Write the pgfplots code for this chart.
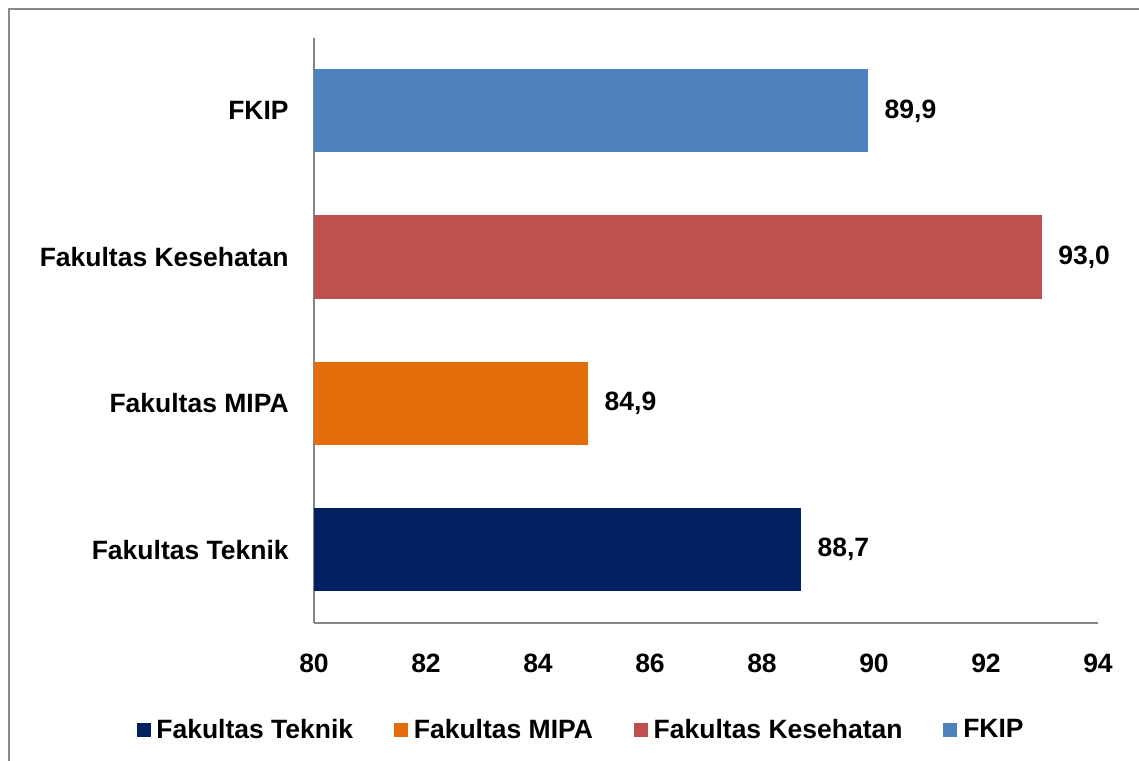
\documentclass[border=0pt]{standalone}
\usepackage{fontspec}
\setmainfont{Liberation Sans}
\usepackage{pgfplots}
\pgfplotsset{compat=1.18}
\definecolor{cT}{HTML}{002060}
\definecolor{cM}{HTML}{E46C0A}
\definecolor{cK}{HTML}{C0504D}
\definecolor{cF}{HTML}{4F81BD}
\definecolor{frame}{HTML}{898989}
\definecolor{axisgray}{HTML}{868686}
\newcommand{\lf}{\bfseries\fontsize{15.9}{18}\selectfont}
\begin{document}
\begin{tikzpicture}
\useasboundingbox (0,0) rectangle (683.4pt,456.6pt);
\draw[line width=1.6pt, color=frame] (5.4pt,0pt) -- (5.4pt,451.2pt) -- (683.4pt,451.2pt);
\begin{axis}[
  at={(188.4pt,82.98pt)}, anchor=south west,
  scale only axis, width=470.4pt, height=351pt,
  xbar, bar width=0.57,
  xmin=80, xmax=94, ymin=-0.5, ymax=3.5,
  xtick={80,82,...,94}, ytick={0,1,2,3},
  yticklabels={Fakultas Teknik, Fakultas MIPA, Fakultas Kesehatan, FKIP},
  axis x line*=bottom, axis y line*=left,
  axis line style={draw=axisgray, line width=1pt, -},
  major tick length=0pt,
  /pgf/number format/assume math mode=true,
  /pgf/number format/.cd, use comma, fixed, fixed zerofill, precision=1,
  /pgfplots/.cd,
  xticklabel={\pgfmathprintnumber[fixed, precision=0]{\tick}},
  xticklabel style={font=\lf, anchor=north, inner sep=0pt, yshift=-18.8pt},
  yticklabel style={font=\lf, anchor=east, inner sep=0pt, xshift=-15pt},
  nodes near coords,
  every node near coord/.append style={font=\lf, anchor=west, inner sep=0pt, xshift=9.6pt, text=black},
  legend columns=4,
  legend style={at={(axis description cs:0.341,-0.1834)}, anchor=center, draw=none, font=\lf,
    /tikz/every odd column/.append style={column sep=2pt},
    /tikz/every even column/.append style={column sep=23pt},
    nodes={inner sep=1.5pt}},
  sq/.style={legend image code/.code={\fill[##1] (0pt,-4.2pt) rectangle (8.4pt,4.2pt);}},
]
\addplot[fill=cT, draw=none, bar shift=0pt, sq] coordinates {(88.7,0)};
\addlegendentry{Fakultas Teknik}
\addplot[fill=cM, draw=none, bar shift=0pt, sq] coordinates {(84.9,1)};
\addlegendentry{Fakultas MIPA}
\addplot[fill=cK, draw=none, bar shift=0pt, sq] coordinates {(93.0,2)};
\addlegendentry{Fakultas Kesehatan}
\addplot[fill=cF, draw=none, bar shift=0pt, sq] coordinates {(89.9,3)};
\addlegendentry{FKIP}
\end{axis}
\end{tikzpicture}
\end{document}
